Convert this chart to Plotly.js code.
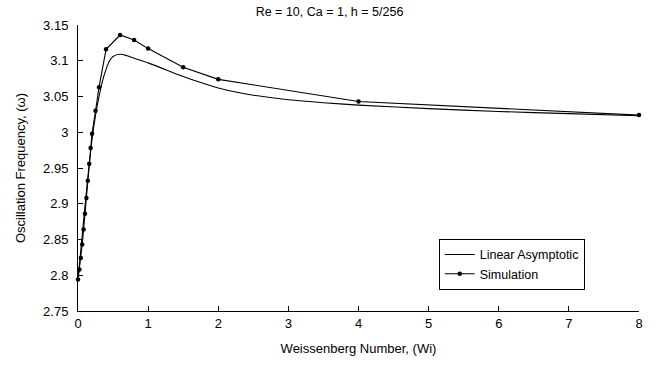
<!DOCTYPE html>
<html>
<head>
<meta charset="utf-8">
<script src="https://cdn.plot.ly/plotly-3.0.1.min.js"></script>
<style>html,body{margin:0;padding:0;background:#fff;}#chart{width:659px;height:365px;}</style>
</head>
<body>
<div id="chart"></div>
<script>
// Linear asymptotic curve
const linX = [0, 0.05, 0.1, 0.15, 0.2, 0.25, 0.3, 0.35, 0.4, 0.45, 0.5, 0.6, 0.7, 0.8, 1, 1.25, 1.5, 1.75, 2, 2.25, 2.5, 3, 3.5, 4, 5, 6, 7, 8];
const linY = [2.794, 2.845, 2.897, 2.946, 2.99, 3.024, 3.05, 3.072, 3.088, 3.1, 3.106, 3.109, 3.107, 3.1035, 3.097, 3.0875, 3.078, 3.0695, 3.062, 3.0563, 3.0518, 3.0455, 3.0413, 3.038, 3.033, 3.029, 3.026, 3.023];
// Simulation
const simX = [0, 0.02, 0.04, 0.06, 0.08, 0.1, 0.12, 0.14, 0.16, 0.18, 0.2, 0.25, 0.3, 0.4, 0.6, 0.8, 1, 1.5, 2, 4, 8];
const simY = [2.794, 2.808, 2.824, 2.843, 2.864, 2.886, 2.908, 2.932, 2.956, 2.978, 2.998, 3.030, 3.063, 3.116, 3.136, 3.129, 3.117, 3.091, 3.074, 3.043, 3.024];
const yTicks = [2.75, 2.8, 2.85, 2.9, 2.95, 3, 3.05, 3.1, 3.15];
const yTickText = ['2.75', '2.8', '2.85', '2.9', '2.95', '3', '3.05', '3.1', '3.15'];
const xTicks = [0, 1, 2, 3, 4, 5, 6, 7, 8];

const font = {family: 'Liberation Sans, Arial, sans-serif', size: 13, color: '#000'};

const traces = [
  {x: linX, y: linY, type: 'scatter', mode: 'lines', name: 'Linear Asymptotic',
   line: {color: '#000', width: 1.1, shape: 'spline', smoothing: 0.8}, cliponaxis: false},
  {x: simX, y: simY, type: 'scatter', mode: 'lines+markers', name: 'Simulation',
   line: {color: '#000', width: 1.1}, marker: {color: '#000', size: 4.5}, cliponaxis: false}
];

const layout = {
  width: 659, height: 365,
  margin: {l: 78, r: 20, t: 25, b: 54},
  paper_bgcolor: '#fff', plot_bgcolor: '#fff',
  font: font,
  title: {text: 'Re = 10, Ca = 1, h = 5/256', font: {family: font.family, size: 12.5, color: '#000'}, x: 0.5, xanchor: 'center', y: 0.967, yanchor: 'middle'},
  showlegend: true,
  legend: {x: 0.643, y: 0.252, xanchor: 'left', yanchor: 'top', bgcolor: '#fff', bordercolor: '#000', borderwidth: 1,
           font: {family: font.family, size: 12.5, color: '#000'}, tracegroupgap: 0},
  xaxis: {range: [0, 8], tickvals: xTicks, ticks: 'inside', ticklen: 5, tickcolor: '#000',
          showline: true, linecolor: '#000', linewidth: 1, showgrid: false, zeroline: false,
          tickfont: font, title: {text: 'Weissenberg Number, (Wi)', font: font, standoff: 14}},
  yaxis: {range: [2.75, 3.15], tickvals: yTicks, ticktext: yTickText, ticks: 'inside', ticklen: 5, tickcolor: '#000',
          showline: true, linecolor: '#000', linewidth: 1, showgrid: false, zeroline: false,
          ticklabelstandoff: 6,
          tickfont: font, title: {text: 'Oscillation Frequency, (ω)', font: font, standoff: 14}}
};

Plotly.newPlot('chart', traces, layout, {displayModeBar: false, staticPlot: true});
</script>
</body>
</html>
